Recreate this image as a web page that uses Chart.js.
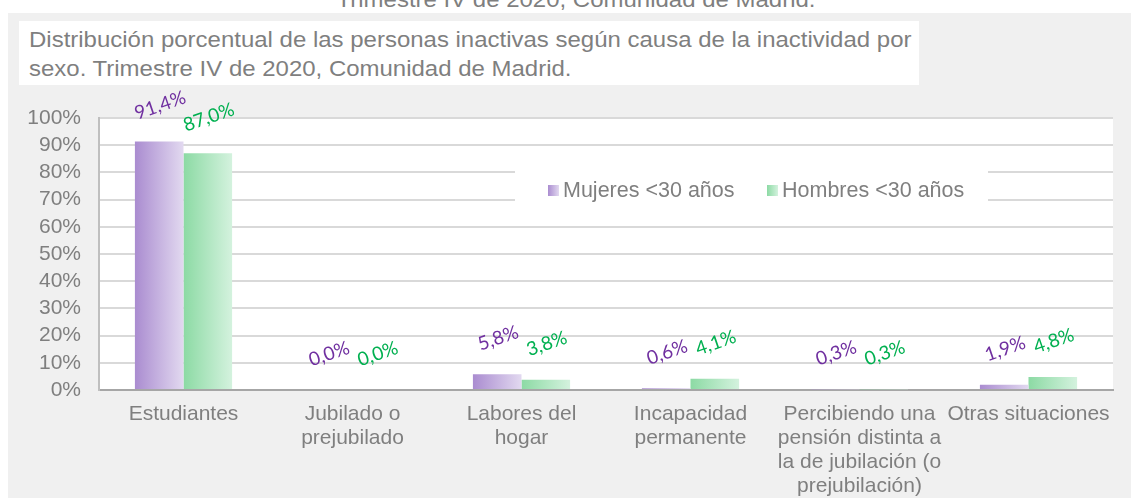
<!DOCTYPE html>
<html>
<head>
<meta charset="utf-8">
<script src="https://cdn.jsdelivr.net/npm/chart.js@4/dist/chart.umd.min.js"></script>
<style>
  body { margin: 0; background: #ffffff; }
  #wrap { position: relative; width: 1131px; height: 498px; overflow: hidden; font-family: "Liberation Sans", Arial, sans-serif; }
  #topTitle { position: absolute; left: 0; top: -11px; width: 1152px; text-align: center; font-size: 22px; line-height: 22px; color: #7f7f7f; transform: scaleX(1.09); transform-origin: 576px 0; }
  #panel { position: absolute; left: 8px; top: 13px; right: 0; bottom: 0; background: #f0f0f0; }
  #titleBox { position: absolute; left: 19px; top: 21px; width: 890px; height: 60px; padding: 4px 0 0 10px; background: #ffffff; color: #7f7f7f; }
  #titleText { font-size: 22px; line-height: 29px; transform: scaleX(1.09); transform-origin: 0 0; white-space: nowrap; }
  #chartBox { position: absolute; left: 0; top: 0; width: 1131px; height: 498px; }
</style>
</head>
<body>
<div id="wrap">
  <div id="topTitle">Trimestre IV de 2020, Comunidad de Madrid.</div>
  <div id="panel"></div>
  <div id="titleBox"><div id="titleText">Distribución porcentual de las personas inactivas según causa de la inactividad por<br>sexo. Trimestre IV de 2020, Comunidad de Madrid.</div></div>
  <div id="chartBox"><canvas id="chart"></canvas></div>
</div>
<script>
const categories = [
    'Estudiantes',
    ['Jubilado o', 'prejubilado'],
    ['Labores del', 'hogar'],
    ['Incapacidad', 'permanente'],
    ['Percibiendo una', 'pensión distinta a', 'la de jubilación (o', 'prejubilación)'],
    'Otras situaciones'
];
const seriesNames = ['Mujeres <30 años', 'Hombres <30 años'];
const mujeres = [91.4, 0.0, 5.8, 0.6, 0.3, 1.9];
const hombres = [87.0, 0.0, 3.8, 4.1, 0.3, 4.8];
const yTicks = [0, 10, 20, 30, 40, 50, 60, 70, 80, 90, 100];

const gradStops = [
    ['rgb(170,140,208)', 'rgb(226,217,240)'],
    ['rgb(140,218,164)', 'rgb(212,242,222)']
];
const labelColors = ['#7030a0', '#00b050'];
const CAT_PCT = 0.575;
const FONT = '"Liberation Sans", Arial, sans-serif';

const makeGrad = (ctx, x0, x1, stops) => {
    const g = ctx.createLinearGradient(x0, 0, x1, 0);
    g.addColorStop(0, stops[0]);
    g.addColorStop(1, stops[1]);
    return g;
}

// gradient across each bar, from the category scale
const barFill = (c, di) => {
    const chart = c.chart;
    const xs = chart.scales.x;
    if (!xs || !chart.chartArea || c.dataIndex === undefined) return gradStops[di][0];
    const barW = xs.width / categories.length * CAT_PCT / 2;
    const center = xs.getPixelForValue(c.dataIndex);
    const left = di === 0 ? center - barW : center;
    return makeGrad(chart.ctx, left, left + barW, gradStops[di]);
}

const fmt = v => v.toFixed(1).replace('.', ',') + '%';

const plotBg = {
    id: 'plotBg',
    beforeDraw(chart) {
        const {ctx, chartArea: a} = chart;
        ctx.save();
        ctx.fillStyle = '#ffffff';
        ctx.fillRect(a.left, a.top, a.right - a.left, a.bottom - a.top);
        ctx.restore();
    }
};

// legend sits inside the plot, on a white box over the gridlines
const innerLegend = {
    id: 'innerLegend',
    beforeDatasetsDraw(chart) {
        const ctx = chart.ctx;
        ctx.save();
        ctx.fillStyle = '#ffffff';
        ctx.fillRect(515, 166, 473, 48);
        ctx.font = '21.5px ' + FONT;
        ctx.textBaseline = 'middle';
        ctx.textAlign = 'left';
        const starts = [548, 767];
        seriesNames.forEach((name, i) => {
            const x = starts[i];
            ctx.fillStyle = makeGrad(ctx, x, x + 11, gradStops[i]);
            ctx.fillRect(x, 185, 11, 11);
            ctx.fillStyle = '#7f7f7f';
            ctx.fillText(name, x + 15, 191);
        });
        ctx.restore();
    }
};

const barLabels = {
    id: 'barLabels',
    afterDatasetsDraw(chart) {
        const ctx = chart.ctx;
        chart.data.datasets.forEach((ds, di) => {
            const meta = chart.getDatasetMeta(di);
            meta.data.forEach((bar, i) => {
                ctx.save();
                ctx.translate(bar.x + 1, bar.y - 36);
                ctx.rotate(-19 * Math.PI / 180);
                ctx.font = '19px Lato, sans-serif';
                ctx.fillStyle = labelColors[di];
                ctx.textAlign = 'center';
                ctx.textBaseline = 'middle';
                ctx.fillText(fmt(ds.data[i]), 0, 0);
                ctx.restore();
            });
        });
    }
};

const ctx = document.getElementById('chart').getContext('2d');
const chart = new Chart(ctx, {
    type: 'bar',
    data: {
        labels: categories,
        datasets: [
            { label: seriesNames[0], data: mujeres, backgroundColor: c => barFill(c, 0) },
            { label: seriesNames[1], data: hombres, backgroundColor: c => barFill(c, 1) }
        ]
    },
    options: {
        responsive: true,
        maintainAspectRatio: false,
        animation: false,
        layout: { padding: { left: 8, top: 118, right: 18, bottom: 0 } },
        datasets: { bar: { categoryPercentage: CAT_PCT, barPercentage: 1.0, borderWidth: 0 } },
        plugins: {
            legend: { display: false },
            tooltip: { enabled: false }
        },
        scales: {
            x: {
                grid: { display: false, drawTicks: false },
                border: { color: '#a6a6a6', width: 2 },
                ticks: {
                    color: '#7f7f7f',
                    font: { family: FONT, size: 21, lineHeight: 24 / 21 },
                    padding: 12,
                    maxRotation: 0,
                    autoSkip: false
                },
                afterFit: s => { s.height = 108; }
            },
            y: {
                min: 0,
                max: 100,
                afterBuildTicks: s => { s.ticks = yTicks.map(v => ({value: v})); },
                grid: { color: '#d9d9d9', lineWidth: 2, drawTicks: false },
                border: { color: '#bfbfbf', width: 2 },
                ticks: {
                    color: '#7f7f7f',
                    font: { family: FONT, size: 21 },
                    padding: 18,
                    autoSkip: false,
                    callback: v => v + '%'
                },
                afterFit: s => { s.width = 91; }
            }
        }
    },
    plugins: [plotBg, innerLegend, barLabels]
});
</script>
</body>
</html>
